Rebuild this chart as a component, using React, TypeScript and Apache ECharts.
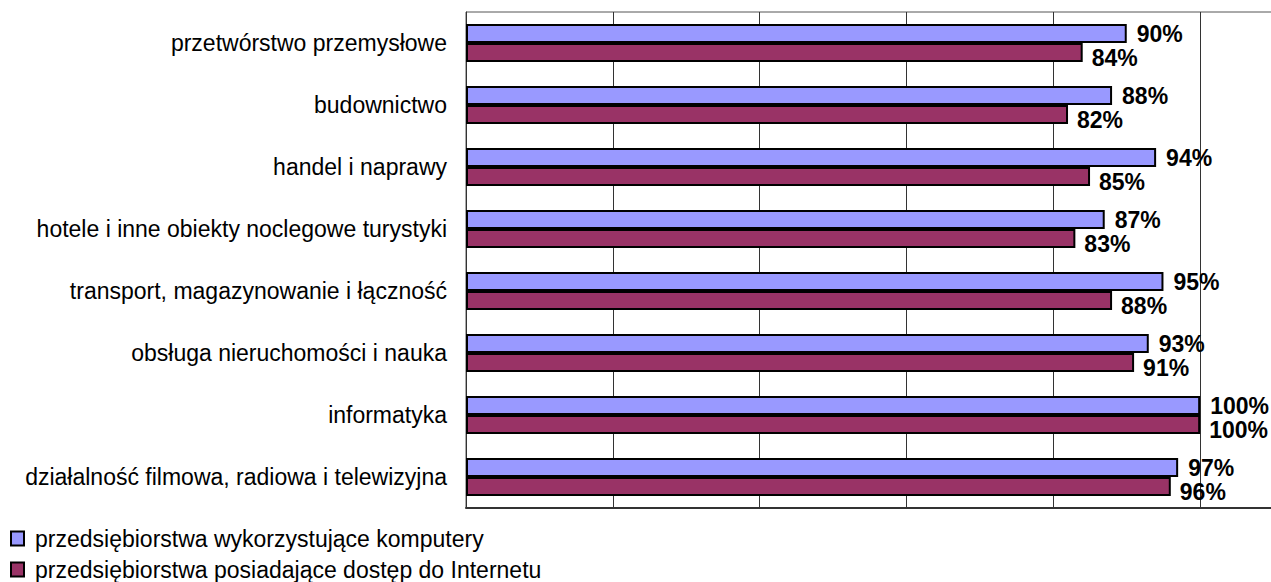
import React, { useEffect, useRef } from "react";
import * as echarts from "echarts";

const categories = [
  "przetwórstwo przemysłowe",
  "budownictwo",
  "handel i naprawy",
  "hotele i inne obiekty noclegowe turystyki",
  "transport, magazynowanie i łączność",
  "obsługa nieruchomości i nauka",
  "informatyka",
  "działalność filmowa, radiowa i telewizyjna",
];
const computers = [90, 88, 94, 87, 95, 93, 100, 97];
const internet = [84, 82, 85, 83, 88, 91, 100, 96];
const seriesNames = [
  "przedsiębiorstwa wykorzystujące komputery",
  "przedsiębiorstwa posiadające dostęp do Internetu",
];

const FONT = "'Liberation Sans', Arial, sans-serif";

const legendBase = {
  orient: "vertical",
  left: 10,
  padding: 0,
  itemWidth: 13,
  itemHeight: 14,
  icon: "rect",
  textStyle: { fontSize: 23, color: "#000", fontFamily: FONT, padding: [0, 0, 0, 6] },
};

export default function App() {
  const ref = useRef<HTMLDivElement>(null);
  useEffect(() => {
    if (!ref.current) return;
    const chart = echarts.init(ref.current, undefined, { renderer: "svg" });
    chart.setOption({
      animation: false,
      backgroundColor: "#fff",
      textStyle: { fontFamily: FONT },
      grid: {
        left: 466,
        top: 12,
        bottom: 74,
        right: 0,
        show: true,
        borderColor: "#555",
        borderWidth: 1,
      },
      legend: [
        { ...legendBase, top: 527, data: [seriesNames[0]] },
        { ...legendBase, top: 558, data: [seriesNames[1]] },
      ],
      xAxis: {
        type: "value",
        min: 0,
        max: 120,
        interval: 20,
        axisLabel: { show: false },
        axisTick: { show: false },
        axisLine: { show: true, lineStyle: { color: "#333", width: 2 } },
        splitLine: { show: true, lineStyle: { color: "#333", width: 1 } },
      },
      yAxis: {
        type: "category",
        inverse: true,
        data: categories,
        axisTick: { show: false },
        axisLine: { show: true, lineStyle: { color: "#333", width: 1 } },
        axisLabel: { fontSize: 23, color: "#000", margin: 19, fontFamily: FONT },
      },
      series: [
        {
          name: seriesNames[0],
          type: "bar",
          data: computers,
          barWidth: 19,
          barGap: "0%",
          itemStyle: { color: "#9999FF", borderColor: "#000", borderWidth: 2 },
          label: {
            show: true,
            position: "right",
            distance: 10,
            formatter: "{c}%",
            fontSize: 23,
            fontWeight: "bold",
            color: "#000",
            fontFamily: FONT,
          },
        },
        {
          name: seriesNames[1],
          type: "bar",
          data: internet,
          barWidth: 19,
          barGap: "0%",
          itemStyle: { color: "#993366", borderColor: "#000", borderWidth: 2 },
          label: {
            show: true,
            position: "right",
            distance: 9,
            offset: [0, 5],
            formatter: "{c}%",
            fontSize: 23,
            fontWeight: "bold",
            color: "#000",
            fontFamily: FONT,
          },
        },
      ],
    });
    return () => chart.dispose();
  }, []);
  return (
    <div
      style={{
        position: "fixed",
        left: 0,
        top: 0,
        width: 1271,
        height: 582,
        overflow: "hidden",
        background: "#fff",
      }}
    >
      <div ref={ref} style={{ width: 1347, height: 582 }} />
    </div>
  );
}
